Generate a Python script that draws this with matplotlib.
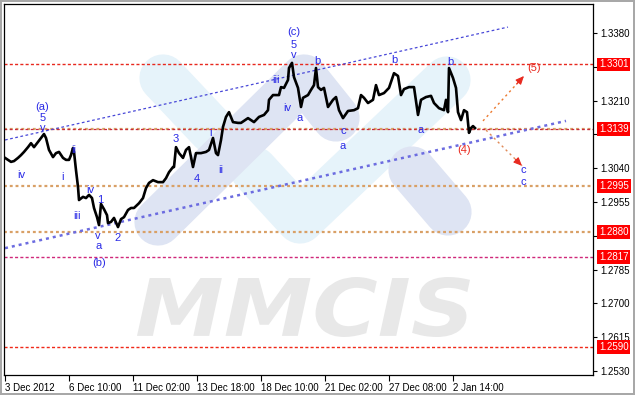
import matplotlib
matplotlib.use("Agg")
import matplotlib.pyplot as plt
import matplotlib.transforms as mtransforms
from matplotlib.textpath import TextPath
from matplotlib.patches import PathPatch
from matplotlib.font_manager import FontProperties

# hourly EURUSD closes (bar index from 3 Dec 2012)
bars = [0, 3, 6, 9, 13, 16, 19, 23, 26, 29,
        33, 36, 39, 41, 44, 48, 51, 54, 58, 61,
        64, 66, 68, 69, 71, 73, 74, 78, 81, 84,
        87, 89, 92, 94, 96, 99, 102, 103, 106, 109,
        113, 116, 119, 123, 126, 129, 134, 138, 141, 144,
        148, 153, 158, 161, 164, 168, 169, 171, 174, 178,
        181, 184, 186, 188, 191, 196, 201, 204, 208, 211,
        213, 216, 218, 221, 224, 228, 233, 236, 243, 249,
        254, 259, 263, 264, 268, 274, 276, 279, 283, 284,
        287, 289, 293, 296, 298, 303, 306, 309, 311, 313,
        316, 319, 323, 328, 331, 334, 338, 343, 349, 353,
        356, 359, 363, 368, 371, 374, 379, 384, 389, 393,
        396, 399, 404, 409, 413, 416, 421, 426, 429, 434,
        439, 441, 443, 444, 448, 451, 453, 456, 459, 462,
        464, 466, 468, 470]
close = [1.3066, 1.3061, 1.3056, 1.3058, 1.3066, 1.3073, 1.3081, 1.3093, 1.3103, 1.3093,
         1.3106, 1.3116, 1.3126, 1.3116, 1.3086, 1.3068, 1.3078, 1.3081, 1.3066, 1.3061,
         1.3061, 1.3073, 1.3091, 1.3081, 1.3035, 1.2993, 1.2960, 1.2968, 1.2965, 1.2973,
         1.2965, 1.2940, 1.2917, 1.2897, 1.2950, 1.2937, 1.2922, 1.2902, 1.2905, 1.2915,
         1.2892, 1.2912, 1.2917, 1.2935, 1.2940, 1.2940, 1.2952, 1.2965, 1.2990, 1.3003,
         1.3010, 1.3005, 1.3005, 1.3015, 1.3030, 1.3043, 1.3043, 1.3093, 1.3078, 1.3066,
         1.3086, 1.3093, 1.3068, 1.3043, 1.3078, 1.3078, 1.3081, 1.3086, 1.3116, 1.3078,
         1.3073, 1.3111, 1.3144, 1.3169, 1.3181, 1.3156, 1.3154, 1.3154, 1.3166, 1.3156,
         1.3169, 1.3174, 1.3186, 1.3212, 1.3224, 1.3224, 1.3244, 1.3242, 1.3262, 1.3292,
         1.3305, 1.3269, 1.3242, 1.3194, 1.3217, 1.3224, 1.3237, 1.3249, 1.3292, 1.3244,
         1.3237, 1.3242, 1.3194, 1.3212, 1.3219, 1.3186, 1.3166, 1.3184, 1.3186, 1.3191,
         1.3224, 1.3217, 1.3204, 1.3212, 1.3249, 1.3224, 1.3229, 1.3242, 1.3279, 1.3272,
         1.3224, 1.3239, 1.3244, 1.3244, 1.3174, 1.3212, 1.3219, 1.3222, 1.3204, 1.3191,
         1.3186, 1.3212, 1.3181, 1.3292, 1.3267, 1.3242, 1.3181, 1.3161, 1.3186, 1.3181,
         1.3129, 1.3141, 1.3146, 1.3141]

x_tick_bars = [0, 64, 128, 192, 256, 320, 384, 448]
x_tick_labels = ["3 Dec 2012", "6 Dec 10:00", "11 Dec 02:00", "13 Dec 18:00",
                 "18 Dec 10:00", "21 Dec 02:00", "27 Dec 08:00", "2 Jan 14:00"]
y_ticks = [1.2530, 1.2615, 1.2700, 1.2785, 1.2870, 1.2955, 1.3040, 1.3125,
           1.3210, 1.3295, 1.3380]
# these tick labels sit under the level boxes
y_hidden = [1.2870, 1.3125, 1.3295]

levels = [1.3301, 1.3139, 1.2995, 1.2880, 1.2817, 1.2590]
level_colors = ["#e8281e", "#d8903f", "#d9a066", "#d9a066", "#d0287a", "#f02818"]

channel_up_x, channel_up_y = [0, 503], [1.3111, 1.3395]
channel_lo_x, channel_lo_y = [0, 561], [1.2839, 1.3159]

arrow_up = [(478, 1.3159), (519, 1.3272)]
arrow_dn = [(481, 1.3136), (517, 1.3046)]

wave_labels = [
    ("(a)", 37, 1.3194), ("5", 38, 1.3166), ("v", 38, 1.3141),
    ("iv", 16, 1.3023), ("i", 57, 1.3018), ("ii", 69, 1.3086),
    ("iii", 72, 1.2920), ("iv", 85, 1.2985), ("1", 95, 1.2960),
    ("v", 93, 1.2869), ("a", 94, 1.2844), ("(b)", 94, 1.2802),
    ("2", 113, 1.2864), ("3", 171, 1.3113), ("4", 192, 1.3013),
    ("i", 205, 1.3128), ("ii", 216, 1.3035), ("iii", 271, 1.3262),
    ("iv", 282, 1.3191), ("(c)", 289, 1.3383), ("5", 289, 1.3350),
    ("v", 289, 1.3325), ("a", 295, 1.3166), ("b", 312, 1.3310),
    ("c", 338, 1.3134), ("a", 338, 1.3096), ("b", 389, 1.3312),
    ("a", 416, 1.3136), ("b", 445, 1.3307), ("c", 518, 1.3035),
    ("c", 518, 1.3005),
]
red_labels = [("(4)", 459, 1.3086), ("(5)", 529, 1.3292)]

plt.rcParams["font.family"] = ["Liberation Sans", "DejaVu Sans"]

W, H = 635, 395
fig = plt.figure(figsize=(W / 100, H / 100), dpi=100)
fig.patch.set_facecolor("white")
fig.patch.set_edgecolor("#a8a8a8")
fig.patch.set_linewidth(1.5)
L, B, R, T = 4, 375, 593, 4
ax = fig.add_axes([L / W, (H - B) / H, (R - L) / W, (B - T) / H])
ax.set_xlim(-1, 588)
ax.set_ylim(1.2520, 1.3453)


def pxa(x, y):
    # pixel position -> axes fraction (watermark only)
    return (x - L) / (R - L), (B - y) / (B - T)


# watermark logo
logo_w = 34
for pts, col in [
    ([(163, 78), (212, 130)], "#e6f3fa"),
    ([(254, 170), (300, 220), (447, 80)], "#e6f3fa"),
    ([(158, 222), (304, 78), (336, 118)], "#dee4f3"),
    ([(412, 170), (448, 212)], "#dee4f3"),
]:
    xs, ys = zip(*[pxa(*p) for p in pts])
    ax.plot(xs, ys, color=col, lw=logo_w, solid_capstyle="round",
            solid_joinstyle="round", transform=ax.transAxes, zorder=0.5)

tp = TextPath((0, 0), "MMCIS", size=50,
              prop=FontProperties(family="DejaVu Sans", weight="bold", style="italic"))
ext = tp.get_extents()
x0, y0 = pxa(137, 337)
x1, y1 = pxa(470, 277)
tr = (mtransforms.Affine2D().translate(-ext.x0, -ext.y0)
      .scale((x1 - x0) / ext.width, (y1 - y0) / ext.height)
      .translate(x0, y0) + ax.transAxes)
ax.add_patch(PathPatch(tp, fc="#e8e8e8", ec="none", transform=tr, zorder=0.6))

# horizontal levels
for val, col in zip(levels, level_colors):
    if col == "#d9a066":
        ax.axhline(val, color=col, lw=1.6, dashes=(1.3, 1.3), zorder=1)
    elif col == "#d8903f":
        ax.axhline(val, color="#d9a066", lw=1.6, dashes=(1.3, 1.3), zorder=1)
        ax.axhline(val, color="#c8283c", lw=0.9, dashes=(2.2, 2.0), zorder=1.1)
    else:
        ax.axhline(val, color=col, lw=1.0, dashes=(2.2, 1.6), zorder=1)
    ax.text(1.0 + 6 / (R - L), val, f"{val:.4f}", transform=ax.get_yaxis_transform(),
            ha="left", va="center", color="white", fontsize=7, clip_on=False,
            bbox=dict(boxstyle="square,pad=0.18", fc="#ff0000", ec="none"), zorder=5)

# channel
ax.plot(channel_up_x, channel_up_y, color="#4848d8", lw=0.9, dashes=(2.2, 2.0), zorder=1.5)
ax.plot(channel_lo_x, channel_lo_y, color="#6c6ce0", lw=1.8, dashes=(1.2, 1.6), zorder=1.5)

# price
ax.plot(bars, close, color="black", lw=1.9, zorder=3)

# forecast arrows
for (s, e), col in [(arrow_up, "#ec7a30"), (arrow_dn, "#e08a58")]:
    ax.plot([s[0], e[0]], [s[1], e[1]], color=col, lw=1.0, dashes=(1.6, 2.4), zorder=2)
    tail = (e[0] - 0.18 * (e[0] - s[0]), e[1] - 0.18 * (e[1] - s[1]))
    ax.annotate("", xy=e, xytext=tail,
                arrowprops=dict(arrowstyle="-|>,head_length=0.5,head_width=0.22",
                                color="#e82a20", lw=0.8, shrinkA=0, shrinkB=0), zorder=2)

for txt, bx, py in wave_labels:
    ax.text(bx, py, txt, color="#2a2ae6", fontsize=8, ha="center", va="center", zorder=4)
for txt, bx, py in red_labels:
    ax.text(bx, py, txt, color="#e8281e", fontsize=8, ha="center", va="center", zorder=4)

# axes
for sp in ax.spines.values():
    sp.set_color("black")
    sp.set_linewidth(0.9)
ax.yaxis.tick_right()
ax.set_yticks(y_ticks)
ax.set_yticklabels(["" if v in y_hidden else f"{v:.4f}" for v in y_ticks])
ax.set_xticks(x_tick_bars)
ax.set_xticklabels(x_tick_labels)
for lab in ax.get_xticklabels():
    lab.set_horizontalalignment("left")
ax.tick_params(axis="y", direction="out", length=3, width=0.8, pad=2, labelsize=7)
ax.tick_params(axis="x", direction="out", length=4, width=0.8, pad=2, labelsize=7)

fig.savefig("out.png", dpi=100)
